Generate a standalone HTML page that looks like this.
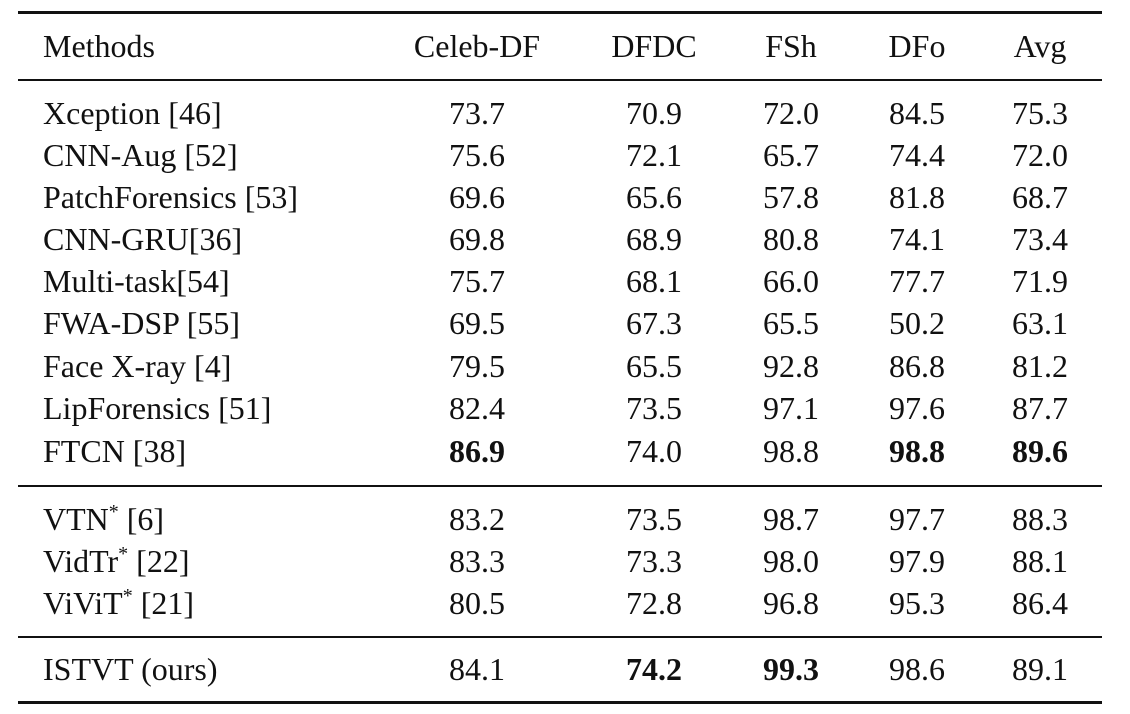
<!DOCTYPE html>
<html><head><meta charset="utf-8"><style>
body{margin:0;background:#fff;width:1130px;height:714px;position:relative;overflow:hidden;font-family:"Liberation Serif",serif;font-size:32px;color:#111}
.r{position:absolute;left:18px;width:1084px;background:#111}
.t{position:absolute;line-height:1;white-space:nowrap}
.c{transform:translateX(-50%)}
b{font-weight:bold}
sup{font-size:20px;vertical-align:12px;line-height:0}
</style></head><body>
<div class="r" style="top:11px;height:3px"></div>
<div class="r" style="top:79px;height:2px"></div>
<div class="r" style="top:485px;height:2px"></div>
<div class="r" style="top:636px;height:2px"></div>
<div class="r" style="top:701px;height:3px"></div>
<div id="tbl"></div>
<script>
const header=["Methods","Celeb-DF","DFDC","FSh","DFo","Avg"];
const rows=[
["Xception [46]","73.7","70.9","72.0","84.5","75.3"],
["CNN-Aug [52]","75.6","72.1","65.7","74.4","72.0"],
["PatchForensics [53]","69.6","65.6","57.8","81.8","68.7"],
["CNN-GRU[36]","69.8","68.9","80.8","74.1","73.4"],
["Multi-task[54]","75.7","68.1","66.0","77.7","71.9"],
["FWA-DSP [55]","69.5","67.3","65.5","50.2","63.1"],
["Face X-ray [4]","79.5","65.5","92.8","86.8","81.2"],
["LipForensics [51]","82.4","73.5","97.1","97.6","87.7"],
["FTCN [38]","<b>86.9</b>","74.0","98.8","<b>98.8</b>","<b>89.6</b>"],
["VTN<sup>*</sup> [6]","83.2","73.5","98.7","97.7","88.3"],
["VidTr<sup>*</sup> [22]","83.3","73.3","98.0","97.9","88.1"],
["ViViT<sup>*</sup> [21]","80.5","72.8","96.8","95.3","86.4"],
["ISTVT (ours)","84.1","<b>74.2</b>","<b>99.3</b>","98.6","89.1"]];
const rowY=[113,155,197,239,281,323,366,408,451,519,561,603,669];
const colX=[43,477,654,791,917,1040];
const tbl=document.getElementById('tbl');
function cell(txt,ci,y,name){
 const d=document.createElement('div');
 d.className='t'+(ci?' c':'');
 d.style.left=colX[ci]+'px';d.style.top=(y-16)+'px';
 d.innerHTML=txt;
 
 
 tbl.appendChild(d);
}
header.forEach((h,i)=>cell(h,i,46,'header-'+h.toLowerCase()));
rows.forEach((r,ri)=>r.forEach((v,ci)=>cell(v,ci,rowY[ri],'cell-r'+ri+'-c'+ci)));
</script>
</body></html>
